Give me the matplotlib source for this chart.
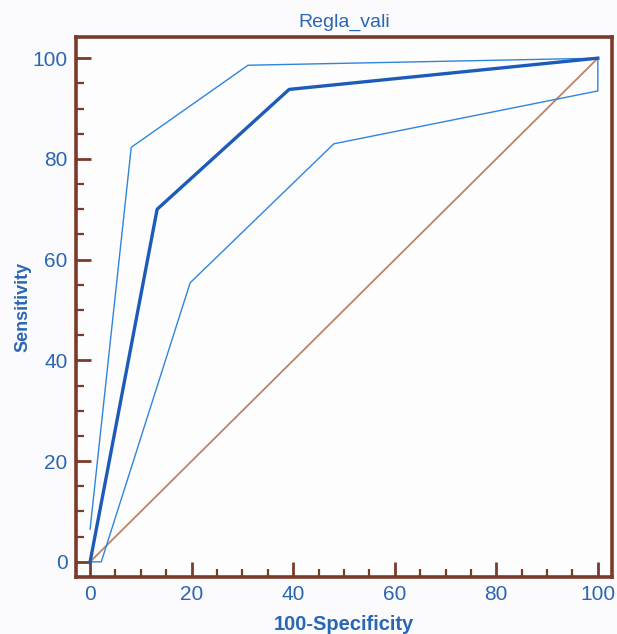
import matplotlib
matplotlib.use("Agg")
import matplotlib.pyplot as plt
from matplotlib.ticker import MultipleLocator

# ROC curve and confidence bounds (x = 100-Specificity, y = Sensitivity)
roc_x = [0, 13.2, 39.2, 100]
roc_y = [0, 70.0, 93.8, 100]
upper_x = [0, 8.1, 31.1, 100]
upper_y = [6.5, 82.3, 98.6, 100]
lower_x = [0, 2.2, 19.7, 48.0, 100, 100]
lower_y = [0, 0, 55.4, 83.0, 93.5, 100]
diag_x = [0, 100]
diag_y = [0, 100]
ticks = [0, 20, 40, 60, 80, 100]

title = "Regla_vali"
xlabel = "100-Specificity"
ylabel = "Sensitivity"

brown = "#7a3b2b"
text_blue = "#2a66b2"

plt.rcParams['font.family'] = ['Liberation Sans', 'DejaVu Sans']
fig = plt.figure(figsize=(6.17, 6.34), dpi=100, facecolor="#fbfbfd")
ax = fig.add_axes([0.123, 0.09, 0.869, 0.8516])
ax.set_facecolor("#fdfdfe")

ax.plot(diag_x, diag_y, color="#bb8466", lw=1.3, zorder=2)
ax.plot(upper_x, upper_y, color="#2f85da", lw=1.0, zorder=3)
ax.plot(lower_x, lower_y, color="#2f85da", lw=1.0, zorder=3)
ax.plot(roc_x, roc_y, color="#1c5cb8", lw=2.4, zorder=4)

ax.set_xlim(-2.8, 102.8)
ax.set_ylim(-3, 104.2)
ax.set_xticks(ticks)
ax.set_yticks(ticks)
ax.xaxis.set_minor_locator(MultipleLocator(5))
ax.yaxis.set_minor_locator(MultipleLocator(5))

for s in ax.spines.values():
    s.set_color(brown)
    s.set_linewidth(2.6)

ax.tick_params(which='major', direction='in', length=10.5, width=2.0, color=brown,
               labelsize=15, labelcolor=text_blue, pad=6, top=False, right=False)
ax.tick_params(which='minor', direction='in', length=5.5, width=1.6, color=brown,
               top=False, right=False)

ax.set_title(title, color=text_blue, fontsize=14, pad=7)
ax.set_xlabel(xlabel, color=text_blue, fontsize=14.5, fontweight='bold', labelpad=8)
ax.set_ylabel(ylabel, color=text_blue, fontsize=13, fontweight='bold', labelpad=1)

fig.savefig("out.png", dpi=100, facecolor=fig.get_facecolor())
